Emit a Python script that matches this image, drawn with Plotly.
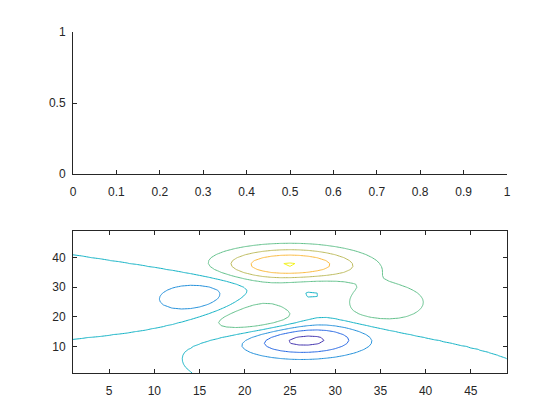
import numpy as np
import plotly.graph_objects as go

# Grid of the MATLAB "peaks" surface shown by the contour (49 x 49 samples)
grid_index = list(range(1, 50))
grid_coord = np.linspace(-3, 3, 49)
X, Y = np.meshgrid(grid_coord, grid_coord)
Z = (3 * (1 - X) ** 2 * np.exp(-X ** 2 - (Y + 1) ** 2)
     - 10 * (X / 5 - X ** 3 - Y ** 5) * np.exp(-X ** 2 - Y ** 2)
     - 1 / 3 * np.exp(-(X + 1) ** 2 - Y ** 2))

contour_levels = [-6, -4, -2, 0, 2, 4, 6, 8]
level_colors = ["#3f2fae", "#2466e4", "#2290db", "#13b3c6",
                "#62c18b", "#bdbb5c", "#fcba3e", "#f2f214"]

top_xticks = [0, 0.1, 0.2, 0.3, 0.4, 0.5, 0.6, 0.7, 0.8, 0.9, 1]
top_xlabels = ["0", "0.1", "0.2", "0.3", "0.4", "0.5", "0.6", "0.7", "0.8", "0.9", "1"]
top_yticks = [0, 0.5, 1]
top_ylabels = ["0", "0.5", "1"]
bot_xticks = [5, 10, 15, 20, 25, 30, 35, 40, 45]
bot_yticks = [10, 20, 30, 40]

W, H = 560, 420
ML, MR, MT, MB = 73, 53, 32, 47
PH = H - MT - MB
axc = "#262626"
font = dict(family="Liberation Sans, Arial, sans-serif", size=12, color=axc)

fig = go.Figure()

# empty top axes
fig.add_trace(go.Scatter(x=[], y=[], xaxis="x", yaxis="y", showlegend=False))

for lev, col in zip(contour_levels, level_colors):
    fig.add_trace(go.Contour(
        x=grid_index, y=grid_index, z=Z,
        xaxis="x2", yaxis="y2",
        autocontour=False,
        contours=dict(start=lev, end=lev, size=1, coloring="none"),
        line=dict(color=col, width=1, smoothing=0),
        showscale=False, hoverinfo="skip",
    ))

common = dict(showgrid=False, zeroline=False, ticks="inside", ticklen=4,
              tickcolor=axc, linecolor=axc, linewidth=1, showline=True,
              tickfont=font, automargin=False)

fig.update_layout(
    width=W, height=H,
    margin=dict(l=ML, r=MR, t=MT, b=MB),
    paper_bgcolor="white", plot_bgcolor="white",
    showlegend=False,
    xaxis=dict(domain=[0, 1], anchor="y", range=[0, 1], ticklabelstandoff=7,
               tickvals=top_xticks, ticktext=top_xlabels, mirror=False, **common),
    yaxis=dict(domain=[1 - (174 - MT) / PH, 1], anchor="x", range=[0, 1],
               ticklabelstandoff=4,
               tickvals=top_yticks, ticktext=top_ylabels, mirror=False, **common),
    xaxis2=dict(domain=[0, 1], anchor="y2", range=[1, 49], ticklabelstandoff=7,
                tickvals=bot_xticks, mirror="ticks", **common),
    yaxis2=dict(domain=[0, 1 - (231 - MT) / PH], anchor="x2", range=[1, 49],
                ticklabelstandoff=4,
                tickvals=bot_yticks, mirror="ticks", **common),
)

fig.write_html("out.html", config={"displayModeBar": False},
               post_script="document.body.style.margin='0';document.body.style.overflow='hidden';")
